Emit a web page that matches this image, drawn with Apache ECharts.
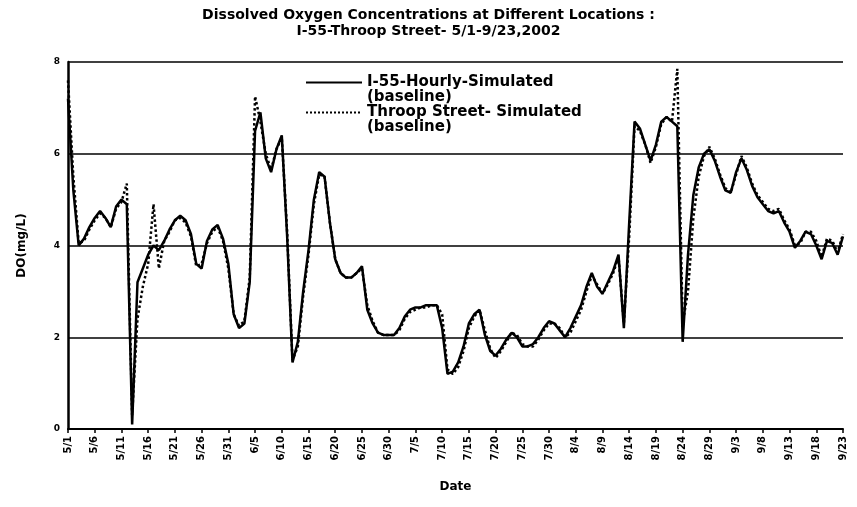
<!DOCTYPE html>
<html><head><meta charset="utf-8">
<script src="https://cdn.jsdelivr.net/npm/echarts@6/dist/echarts.min.js"></script>
<style>html,body{margin:0;padding:0;background:#fff}#c{width:857px;height:507px}</style>
</head><body><div id="c"></div>
<script>
// Tick labels every 5 days, 5/1 .. 9/23
const tickLabels = ['5/1','5/6','5/11','5/16','5/21','5/26','5/31','6/5','6/10','6/15','6/20','6/25','6/30','7/5','7/10','7/15','7/20','7/25','7/30','8/4','8/9','8/14','8/19','8/24','8/29','9/3','9/8','9/13','9/18','9/23'];
const seriesNames = ['I-55-Hourly-Simulated', 'Throop Street- Simulated'];
// Daily DO values (mg/L), day 0 = 5/1
const i55 = [7.2,5.2,4.0,4.15,4.4,4.6,4.75,4.6,4.4,4.85,
  5.0,4.9,0.1,3.2,3.5,3.8,4.0,3.9,4.1,4.35,
  4.55,4.65,4.55,4.25,3.6,3.5,4.1,4.35,4.45,4.15,
  3.6,2.5,2.2,2.3,3.2,6.5,6.9,5.9,5.6,6.1,
  6.4,4.2,1.45,1.9,3.0,3.9,5.0,5.6,5.5,4.5,
  3.7,3.4,3.3,3.3,3.4,3.55,2.6,2.3,2.1,2.05,
  2.05,2.05,2.2,2.45,2.6,2.65,2.65,2.7,2.7,2.7,
  2.2,1.2,1.25,1.45,1.8,2.3,2.5,2.6,2.05,1.7,
  1.6,1.75,1.95,2.1,2.0,1.8,1.8,1.85,2.0,2.2,
  2.35,2.3,2.15,2.0,2.2,2.45,2.7,3.1,3.4,3.1,
  2.95,3.2,3.45,3.8,2.2,4.5,6.7,6.55,6.2,5.85,
  6.2,6.7,6.8,6.7,6.6,1.9,3.8,5.1,5.7,6.0,
  6.1,5.85,5.5,5.2,5.15,5.6,5.9,5.65,5.3,5.05,
  4.9,4.75,4.7,4.75,4.5,4.3,3.95,4.1,4.3,4.25,
  4.0,3.7,4.1,4.05,3.8,4.2];
const throop = [7.6,5.5,4.05,4.1,4.35,4.55,4.7,4.6,4.4,4.8,
  4.95,5.35,0.3,2.4,3.1,3.6,4.9,3.5,4.1,4.3,
  4.55,4.6,4.5,4.2,3.55,3.6,4.05,4.3,4.4,4.1,
  3.5,2.5,2.25,2.35,3.3,7.25,6.7,6.0,5.65,6.1,
  6.35,4.3,1.5,1.8,2.9,3.8,4.9,5.55,5.5,4.5,
  3.7,3.4,3.3,3.3,3.4,3.5,2.7,2.35,2.1,2.05,
  2.05,2.05,2.15,2.4,2.55,2.6,2.65,2.65,2.7,2.7,
  2.5,1.3,1.2,1.35,1.7,2.2,2.45,2.6,2.15,1.75,
  1.55,1.7,1.9,2.1,2.05,1.85,1.8,1.8,1.95,2.15,
  2.3,2.3,2.2,2.0,2.1,2.35,2.6,3.0,3.35,3.15,
  2.95,3.15,3.4,3.75,2.3,4.2,6.6,6.5,6.2,5.8,
  6.15,6.65,6.8,6.7,7.85,2.3,3.0,4.6,5.5,5.95,
  6.15,5.9,5.55,5.25,5.15,5.55,5.95,5.7,5.35,5.1,
  4.95,4.8,4.75,4.8,4.55,4.35,4.0,4.05,4.3,4.3,
  4.1,3.75,4.15,4.1,3.85,4.25];

const FONT = '"DejaVu Sans", "Liberation Sans", Arial, sans-serif';
const chart = echarts.init(document.getElementById('c'), null, {renderer: 'canvas'});
const legendCommon = {
  orient: 'vertical', left: 305, padding: 0, itemWidth: 56, itemHeight: 14,
  itemGap: 0, selectedMode: false,
  itemStyle: {color: 'rgba(0,0,0,0)', borderWidth: 0, opacity: 0},
  formatter: n => '\u00a0\n' + n + '\n(baseline)',
  textStyle: {fontFamily: FONT, fontWeight: 'bold', fontSize: 15, color: '#000', lineHeight: 15}
};
chart.setOption({
  backgroundColor: '#fff',
  animation: false,
  title: {
    text: 'Dissolved Oxygen Concentrations at Different Locations :\nI-55-Throop Street- 5/1-9/23,2002',
    left: 'center', top: 2,
    textStyle: {fontFamily: FONT, fontWeight: 'bold', fontSize: 14, color: '#000', lineHeight: 16}
  },
  legend: [
    Object.assign({}, legendCommon, {data: [seriesNames[0]], top: 60}),
    Object.assign({}, legendCommon, {data: [seriesNames[1]], top: 90})
  ],
  grid: {left: 68, right: 14, top: 62, bottom: 78, containLabel: false},
  xAxis: {
    type: 'value', min: 0, max: 145, interval: 5,
    name: 'Date', nameLocation: 'middle', nameGap: 52,
    nameTextStyle: {fontFamily: FONT, fontWeight: 'bold', fontSize: 12, color: '#000'},
    axisLine: {lineStyle: {color: '#000', width: 2}},
    axisTick: {show: true, length: 4, lineStyle: {color: '#000', width: 1.5}},
    splitLine: {show: false},
    axisLabel: {
      rotate: 90, margin: 7, fontFamily: FONT, fontWeight: 'bold', fontSize: 10, color: '#000',
      formatter: v => tickLabels[Math.round(v / 5)] || ''
    }
  },
  yAxis: {
    type: 'value', min: 0, max: 8, interval: 2,
    name: 'DO(mg/L)', nameLocation: 'middle', nameGap: 40,
    nameTextStyle: {fontFamily: FONT, fontWeight: 'bold', fontSize: 12, color: '#000'},
    axisLine: {show: true, lineStyle: {color: '#000', width: 2.5}},
    axisTick: {show: false},
    splitLine: {show: true, lineStyle: {color: '#000', width: 1.5}},
    axisLabel: {margin: 8, fontFamily: FONT, fontWeight: 'bold', fontSize: 9, color: '#000'}
  },
  series: [
    {name: seriesNames[0], type: 'line', symbol: 'none', z: 3,
     lineStyle: {color: '#000', width: 2.5, type: 'solid'}, itemStyle: {color: '#000'},
     data: i55.map((v, i) => [i, v])},
    {name: seriesNames[1], type: 'line', symbol: 'none', z: 2,
     lineStyle: {color: '#000', width: 2.5, type: 'dotted'}, itemStyle: {color: '#000'},
     data: throop.map((v, i) => [i, v])}
  ]
});
</script></body></html>
